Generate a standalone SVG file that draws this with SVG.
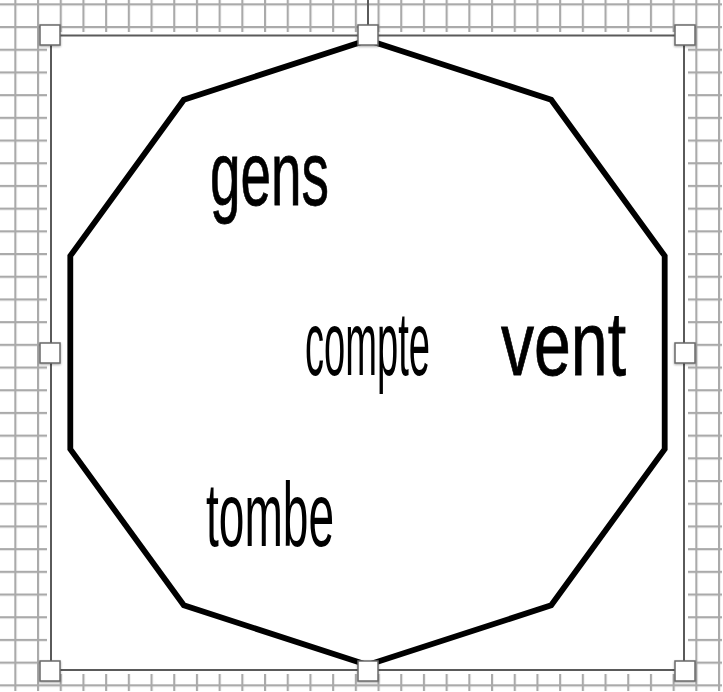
<svg xmlns="http://www.w3.org/2000/svg" width="723" height="692" viewBox="0 0 723 692">
  <defs>
    <pattern id="grid" x="15.3" y="27" width="22.7" height="22.7" patternUnits="userSpaceOnUse">
      <path d="M1 0 V22.7 M0 1 H22.7" fill="none" stroke="#aaaaaa" stroke-width="2.3"/>
    </pattern>
    <filter id="shadow" x="-30%" y="-30%" width="160%" height="160%">
      <feDropShadow dx="0" dy="1" stdDeviation="1.2" flood-color="#000" flood-opacity="0.35"/>
    </filter>
  </defs>
  <style>
    .word { font-family: "Liberation Sans", Arial, sans-serif; font-size: 90px; fill: #000; }
    .handle { fill: #fff; stroke: #6a6a6a; stroke-width: 1.5; filter: url(#shadow); }
    .sel { fill: none; stroke: #5a5a5a; stroke-width: 2; }
  </style>
  <rect x="0" y="0" width="723" height="692" fill="#fff"/>
  <rect x="0" y="0" width="723" height="692" fill="url(#grid)" transform="translate(-1,-1)"/>
  <rect x="47" y="32" width="641" height="642" fill="#fff"/>

  <g id="shape">
    <polygon points="367.5,40 551.2,99.7 664.7,255.9 664.7,449.1 551.2,605.3 367.5,665 183.8,605.3 70.3,449.1 70.3,255.9 183.8,99.7" fill="#fff" stroke="#000" stroke-width="5.8" stroke-linejoin="miter"/>
  </g>

  <g id="words">
    <text id="gens" class="word" transform="translate(210,205) scale(0.61,1)" stroke="#000" stroke-width="0.8">gens</text>
    <text id="compte" class="word" transform="translate(305,375) scale(0.4236,1)">compte</text>
    <text id="vent" class="word" transform="translate(501,375) scale(0.735,1)" stroke="#000" stroke-width="0.8">vent</text>
    <text id="tombe" class="word" transform="translate(206,546) scale(0.512,1)">tombe</text>
  </g>

  <g id="selection">
    <line x1="368" y1="0" x2="368" y2="26" stroke="#5a5a5a" stroke-width="2"/>
    <rect class="sel" x="51" y="35.5" width="633" height="634.5"/>
    <rect class="handle" x="40" y="25" width="20" height="20"/>
    <rect class="handle" x="358" y="25" width="20" height="20"/>
    <rect class="handle" x="675" y="25" width="20" height="20"/>
    <rect class="handle" x="40" y="343" width="20" height="20"/>
    <rect class="handle" x="675" y="343" width="20" height="20"/>
    <rect class="handle" x="40" y="661" width="20" height="20"/>
    <rect class="handle" x="358" y="661" width="20" height="20"/>
    <rect class="handle" x="675" y="661" width="20" height="20"/>
  </g>
</svg>
